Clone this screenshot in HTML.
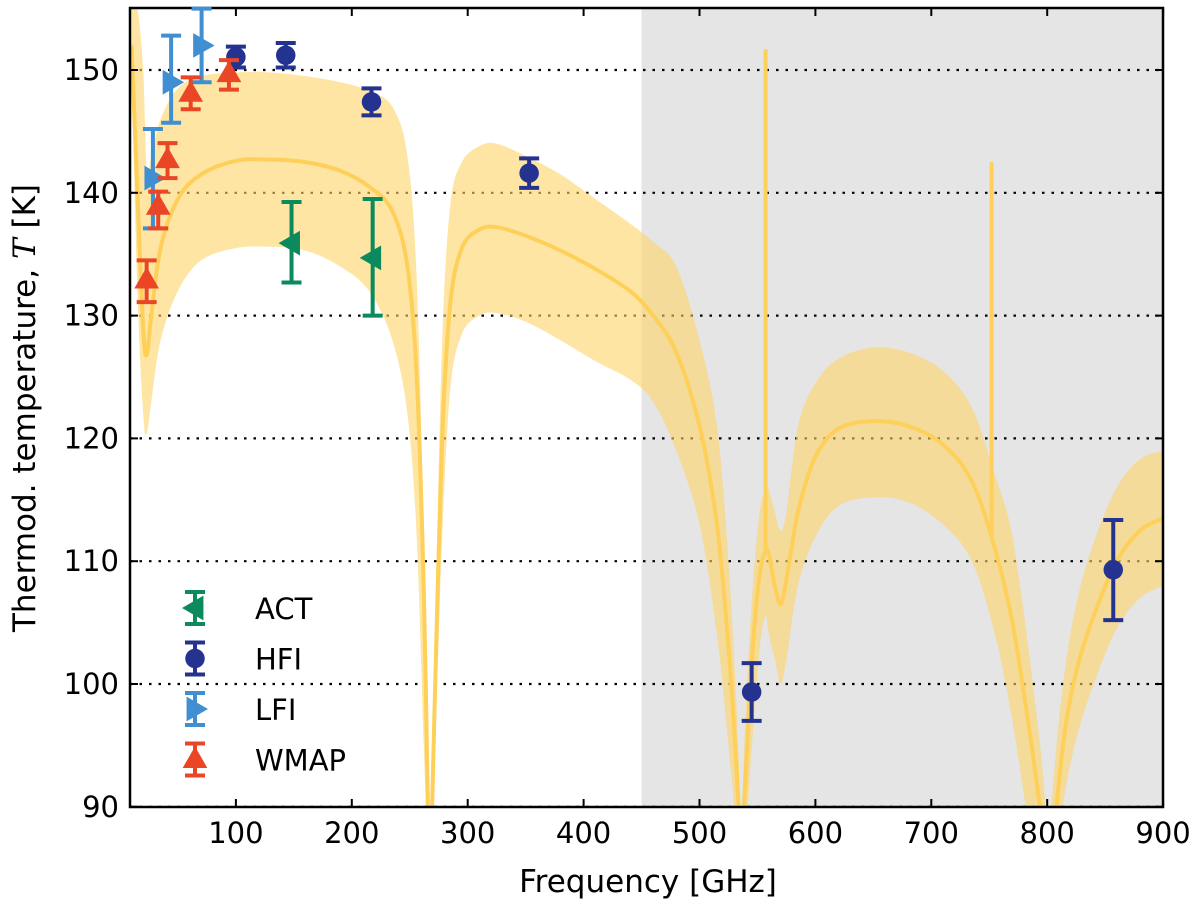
<!DOCTYPE html>
<html><head><meta charset="utf-8"><style>
html,body{margin:0;padding:0;background:#fff;}
svg{display:block;font-family:"DejaVu Sans","Liberation Sans",sans-serif;}
</style></head><body>
<svg id="chart" width="1200" height="905" viewBox="0 0 1200 905">
<defs><clipPath id="plotclip"><rect x="130" y="8" width="1033" height="799"/></clipPath></defs>
<rect x="0" y="0" width="1200" height="905" fill="#fff"/>
<g id="plot" clip-path="url(#plotclip)"></g>
<g id="axes"></g>
<g id="points"></g>
<g id="legend"></g>
</svg>
<script>
// ---- data ----
const segA_f = [10,15,20,23,27,35,50,70,100,130,160,190,215,235,248,256,262,266];
const segA_c = [152,140,129,126.8,130,135.5,139.5,141.5,142.6,142.7,142.5,141.8,140.5,138.5,134,125,108,88];
const segA_lo = [150,132,122,120.4,123,128,132,134.5,135.5,135.6,135.3,134,132,128,122,112,95,85];
const segA_hi = [155,155,150,142,143,146,148.5,149.5,149.8,149.8,149.5,149,148.3,147,143,133,112,90];
const segB_f = [268,272,278,285,295,310,325,350,380,410,440,460,480,500,515,525,532,536];
const segB_c = [85,100,120,131,135.5,137,137.2,136.5,135.3,133.8,132,130,127,121,113,103,93,85];
const segB_lo = [85,95,112,124,128.5,130,130.2,129.5,128,126.3,124.8,123,119,113,104,95,88,85];
const segB_hi = [88,105,128,139,142.5,143.8,144,143,141.5,139.5,137.5,136,134,128,121,110,98,88];
const segC_f = [536,540,546,552,557,560,565,570,575,585,600,620,650,680,710,735,755,770,785,795,800];
const segC_c = [85,93,103,109,110.8,110.5,108,106.5,108.5,114,118.5,120.8,121.4,121,119.5,116.5,111,105,96,89,85];
const segC_lo = [85,88,96,103,105.5,104,102,100,102,108,112,114.5,115.2,114.8,113,110,104,97,88,84,82];
const segC_hi = [88,98,108,114,116,115.8,114,112.5,114,121,124.5,126.5,127.4,127,125.5,122.5,117,112,102,94,88];
const segD_f = [802,808,815,825,840,860,880,900];
const segD_c = [84,90,96,101,105.5,110,112.5,113.5];
const segD_lo = [82,86,91,95.5,100,104.5,107,108];
const segD_hi = [88,95,101,106.5,111.5,116,118.3,119];
const spike_f = [557,752];
const spike_top = [151.7,142.5];
const spike_base = [110.8,112];

const act_f = [148,218], act_t = [135.9,134.7], act_lo = [132.7,130.0], act_hi = [139.25,139.5];
const hfi_f = [100,143,217,353,545,857], hfi_t = [151.06,151.2,147.4,141.6,99.35,109.3];
const hfi_lo = [150.2,150.2,146.3,140.4,97.0,105.2], hfi_hi = [151.9,152.2,148.5,142.8,101.7,113.35];
const lfi_f = [28.4,44.1,70.4], lfi_t = [141.2,149.0,152.0], lfi_lo = [137.1,145.7,149.0], lfi_hi = [145.2,152.8,155.0];
const wmap_f = [23,33,41,61,94], wmap_t = [132.9,138.9,142.7,148.1,149.7];
const wmap_lo = [131.1,137.1,141.2,146.8,148.4], wmap_hi = [134.5,140.1,144.05,149.4,150.8];
const xticks = [100,200,300,400,500,600,700,800,900];
const yticks = [90,100,110,120,130,140,150];

// ---- scales ----
const X = f => 120 + f*1.159;
const Y = t => 70 + (150 - t)*12.28;
const NS = 'http://www.w3.org/2000/svg';
function mk(tag, parent, attrs){const e=document.createElementNS(NS,tag);for(const k in attrs)e.setAttribute(k,attrs[k]);parent.appendChild(e);return e;}
const plot = document.getElementById('plot'), axes=document.getElementById('axes'), pts=document.getElementById('points'), leg=document.getElementById('legend');

let shade = mk('rect', plot, {x:X(450), y:0, width:1200-X(450), height:905, fill:'#e5e5e5'});



yticks.forEach(t=>{
  const g = mk('line', plot, {x1:130,x2:1163,y1:Y(t),y2:Y(t),stroke:'#000','stroke-width':2.2,'stroke-dasharray':'2.5,7'});
  
  
});

const segs = [[segA_f,segA_c,segA_lo,segA_hi],[segB_f,segB_c,segB_lo,segB_hi],[segC_f,segC_c,segC_lo,segC_hi],[segD_f,segD_c,segD_lo,segD_hi]];
function smooth(ptsArr){
  let d='M'+ptsArr[0][0]+','+ptsArr[0][1];
  for(let i=0;i<ptsArr.length-1;i++){
    const p0=ptsArr[Math.max(0,i-1)],p1=ptsArr[i],p2=ptsArr[i+1],p3=ptsArr[Math.min(ptsArr.length-1,i+2)];
    const c1=[p1[0]+(p2[0]-p0[0])/6,p1[1]+(p2[1]-p0[1])/6];
    const c2=[p2[0]-(p3[0]-p1[0])/6,p2[1]-(p3[1]-p1[1])/6];
    d+=' C'+c1[0].toFixed(1)+','+c1[1].toFixed(1)+' '+c2[0].toFixed(1)+','+c2[1].toFixed(1)+' '+p2[0].toFixed(1)+','+p2[1].toFixed(1);
  }
  return d;
}
segs.forEach(([f,c,lo,hi])=>{
  const up = f.map((v,i)=>[X(v),Y(hi[i])]);
  const dn = f.map((v,i)=>[X(v),Y(lo[i])]).reverse();
  const sd = smooth(dn);
  const d = smooth(up)+' L'+dn[0][0]+','+dn[0][1]+sd.slice(sd.indexOf(' '))+' Z';
  const b = mk('path', plot, {d:d, fill:'#fdd468','fill-opacity':0.6,stroke:'none'});
  
  
});
segs.forEach(([f,c])=>{
  const l = mk('path', plot, {d:smooth(f.map((v,i)=>[X(v),Y(c[i])])), fill:'none',stroke:'#fed05a','stroke-width':4});
  
  
});
spike_f.forEach((f,i)=>{
  const s = mk('line', plot, {x1:X(f),x2:X(f),y1:Y(spike_base[i]),y2:Y(spike_top[i]),stroke:'#fed05a','stroke-width':4});
  
  
});

const fr = mk('rect', axes, {x:130,y:8,width:1033,height:799,fill:'none',stroke:'#000','stroke-width':2.5});


xticks.forEach(t=>{
  const x=X(t);
  mk('line', axes, {x1:x,x2:x,y1:807,y2:799,stroke:'#000','stroke-width':2});
  mk('line', axes, {x1:x,x2:x,y1:8,y2:16,stroke:'#000','stroke-width':2});
  const tl = mk('text', axes, {x:x,y:843,'text-anchor':'middle','font-size':29,fill:'#000'});
  tl.textContent=t;
  
  
});
yticks.forEach(t=>{
  const y=Y(t);
  mk('line', axes, {x1:130,x2:138,y1:y,y2:y,stroke:'#000','stroke-width':2});
  mk('line', axes, {x1:1163,x2:1155,y1:y,y2:y,stroke:'#000','stroke-width':2});
  const tl = mk('text', axes, {x:119,y:y+10,'text-anchor':'end','font-size':29,fill:'#000'});
  tl.textContent=t;
  
  
});
const xt = mk('text', axes, {x:648,y:892,'text-anchor':'middle','font-size':31,fill:'#000'});
xt.textContent='Frequency [GHz]';


const yt = mk('text', axes, {x:0,y:0,'text-anchor':'middle','font-size':31,fill:'#000',transform:'translate(35,408) rotate(-90)'});
yt.innerHTML='Thermod. temperature, <tspan font-family="DejaVu Serif, Liberation Serif, serif" font-style="italic">T</tspan> [K]';



function marker(g, type, x, y, color, s){
  if(type==='circle') return mk('circle', g, {cx:x,cy:y,r:s*0.75,fill:color});
  let p;
  if(type==='tri-up') p=[[x,y-s],[x-s*0.95,y+s*0.65],[x+s*0.95,y+s*0.65]];
  if(type==='tri-left') p=[[x-s,y],[x+s*0.65,y-s*0.95],[x+s*0.65,y+s*0.95]];
  if(type==='tri-right') p=[[x+s,y],[x-s*0.65,y-s*0.95],[x-s*0.65,y+s*0.95]];
  return mk('polygon', g, {points:p.map(q=>q.join(',')).join(' '),fill:color});
}
function series(name, f, t, lo, hi, color, type){
  const g = mk('g', pts, {});
  
  
  f.forEach((v,i)=>{
    const x=X(v), cap=10;
    mk('line', g, {x1:x,x2:x,y1:Y(lo[i]),y2:Y(hi[i]),stroke:color,'stroke-width':4});
    mk('line', g, {x1:x-cap,x2:x+cap,y1:Y(lo[i]),y2:Y(lo[i]),stroke:color,'stroke-width':4});
    mk('line', g, {x1:x-cap,x2:x+cap,y1:Y(hi[i]),y2:Y(hi[i]),stroke:color,'stroke-width':4});
    const m = marker(g, type, x, Y(t[i]), color, 13);
    
    
  });
}
series('act', act_f, act_t, act_lo, act_hi, '#0b8a5e', 'tri-left');
series('hfi', hfi_f, hfi_t, hfi_lo, hfi_hi, '#24338f', 'circle');
series('lfi', lfi_f, lfi_t, lfi_lo, lfi_hi, '#3f8fd2', 'tri-right');
series('wmap', wmap_f, wmap_t, wmap_lo, wmap_hi, '#ea4524', 'tri-up');

const legItems = [['ACT','#0b8a5e','tri-left'],['HFI','#24338f','circle'],['LFI','#3f8fd2','tri-right'],['WMAP','#ea4524','tri-up']];
legItems.forEach((it,i)=>{
  const y = 608 + i*50.5, x=195;
  const g = mk('g', leg, {});
  
  
  mk('line', g, {x1:x,x2:x,y1:y-16,y2:y+16,stroke:it[1],'stroke-width':4});
  mk('line', g, {x1:x-10,x2:x+10,y1:y-16,y2:y-16,stroke:it[1],'stroke-width':4});
  mk('line', g, {x1:x-10,x2:x+10,y1:y+16,y2:y+16,stroke:it[1],'stroke-width':4});
  marker(g, it[2], x, y, it[1], 13);
  const tx = mk('text', g, {x:255,y:y+11,'font-size':29,fill:'#000'});
  tx.textContent = it[0];
});
</script>
</body></html>
